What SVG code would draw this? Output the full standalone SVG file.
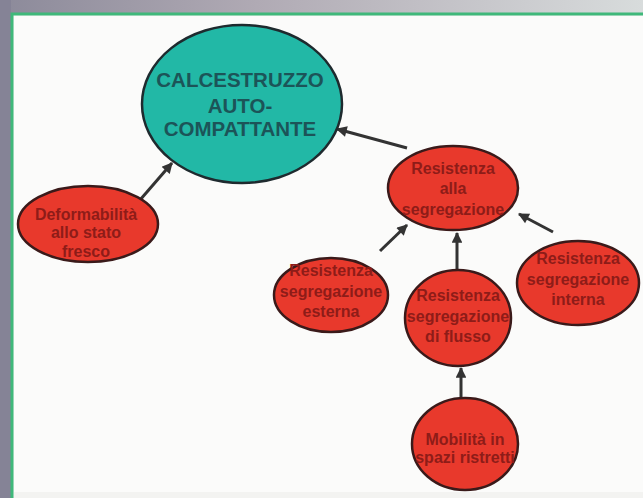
<svg xmlns="http://www.w3.org/2000/svg" width="643" height="498" viewBox="0 0 643 498">
<style>
.red{fill:#e8392c;stroke:#3a1a1a;stroke-width:2.5}
.teal{fill:#22b8a6;stroke:#1e2a2e;stroke-width:2.5}
.t{font-family:"Liberation Sans",Arial,sans-serif;font-weight:bold;font-size:16px;fill:#8e1c18;text-anchor:middle}
.tm{font-family:"Liberation Sans",Arial,sans-serif;font-weight:bold;font-size:20.5px;fill:#1c5458;text-anchor:middle}
.c{stroke:#333;stroke-width:3;fill:none;marker-end:url(#ah)}
</style>
<defs>
<linearGradient id="top" x1="0" y1="0" x2="1" y2="0">
<stop offset="0" stop-color="#8c8a9a"/>
<stop offset="0.4" stop-color="#b0aab4"/>
<stop offset="1" stop-color="#d8dcdc"/>
</linearGradient>
<marker id="ah" viewBox="0 0 10 10" refX="9" refY="5" markerWidth="4.2" markerHeight="3.6" orient="auto" markerUnits="strokeWidth">
<path d="M0,0 L10,5 L0,10 z" fill="#333"/>
</marker>
</defs>
<rect x="0" y="0" width="643" height="498" fill="#f3f3f1"/>
<rect x="0" y="0" width="643" height="13" fill="url(#top)"/>
<rect x="0" y="0" width="11" height="498" fill="#858396"/>
<path d="M12,498 V14 H643" fill="none" stroke="#3fb87a" stroke-width="3"/>
<rect x="14" y="16" width="629" height="476" fill="#fbfbfa"/>
<g id="connectors">
<line class="c" x1="140" y1="200" x2="172" y2="163"/>
<line class="c" x1="407" y1="148" x2="337" y2="129"/>
<line class="c" x1="380" y1="251" x2="407" y2="225"/>
<line class="c" x1="457" y1="270" x2="457" y2="233"/>
<line class="c" x1="553" y1="232" x2="519" y2="214"/>
<line class="c" x1="461" y1="398" x2="461" y2="368"/>
</g>
<g id="main">
<ellipse class="teal" cx="242" cy="104" rx="100" ry="79"/>
<text class="tm" x="240" y="87">CALCESTRUZZO</text>
<text class="tm" x="240" y="113">AUTO-</text>
<text class="tm" x="240" y="136">COMPATTANTE</text>
</g>
<g id="deformabilita">
<ellipse class="red" cx="88" cy="224" rx="70" ry="38"/>
<text class="t" x="86" y="220">Deformabilità</text>
<text class="t" x="86" y="238">allo stato</text>
<text class="t" x="86" y="257">fresco</text>
</g>
<g id="segregazione">
<ellipse class="red" cx="453" cy="188" rx="65" ry="42"/>
<text class="t" x="453" y="174">Resistenza</text>
<text class="t" x="453" y="194">alla</text>
<text class="t" x="453" y="215">segregazione</text>
</g>
<g id="esterna">
<ellipse class="red" cx="331" cy="295" rx="57" ry="37"/>
<text class="t" x="331" y="276">Resistenza</text>
<text class="t" x="331" y="297">segregazione</text>
<text class="t" x="331" y="317">esterna</text>
</g>
<g id="flusso">
<ellipse class="red" cx="458" cy="318" rx="53" ry="48"/>
<text class="t" x="458" y="301">Resistenza</text>
<text class="t" x="458" y="322">segregazione</text>
<text class="t" x="458" y="342">di flusso</text>
</g>
<g id="interna">
<ellipse class="red" cx="578" cy="283" rx="61" ry="42"/>
<text class="t" x="578" y="264">Resistenza</text>
<text class="t" x="578" y="285">segregazione</text>
<text class="t" x="578" y="305">interna</text>
</g>
<g id="mobilita">
<ellipse class="red" cx="465" cy="444" rx="53" ry="46"/>
<text class="t" x="465" y="445">Mobilità in</text>
<text class="t" x="465" y="463">spazi ristretti</text>
</g>
</svg>
